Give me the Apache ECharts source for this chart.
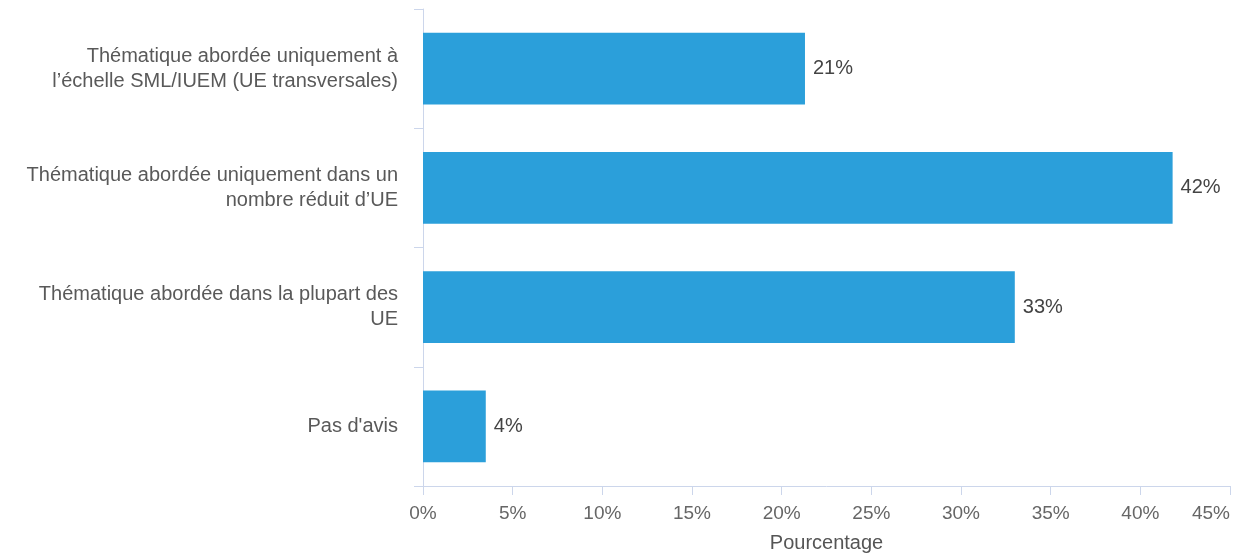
<!DOCTYPE html>
<html>
<head>
<meta charset="utf-8">
<script src="https://cdn.jsdelivr.net/npm/echarts@6/dist/echarts.min.js"></script>
<style>
html,body{margin:0;padding:0;background:#fff;}
#chart{width:1251px;height:558px;}
</style>
</head>
<body>
<div id="chart"></div>
<script>
var categories = [
  "Thématique abordée uniquement à\nl’échelle SML/IUEM (UE transversales)",
  "Thématique abordée uniquement dans un\nnombre réduit d’UE",
  "Thématique abordée dans la plupart des\nUE",
  "Pas d'avis"
];
var values = [21.3, 41.8, 33.0, 3.5];
var axisName = "Pourcentage";
var xMin = 0, xMax = 45, xInterval = 5;

var FONT = "'Liberation Sans', Arial, sans-serif";
var chart = echarts.init(document.getElementById('chart'), null, {renderer: 'canvas'});
chart.setOption({
  animation: false,
  backgroundColor: '#ffffff',
  grid: {left: 423, right: 21, top: 9, bottom: 68, containLabel: false},
  xAxis: {
    type: 'value',
    min: xMin, max: xMax, interval: xInterval,
    name: axisName,
    nameLocation: 'middle',
    nameGap: 47,
    nameTextStyle: {fontFamily: FONT, fontSize: 20, color: '#555555'},
    axisLine: {show: true, lineStyle: {color: '#ccd6eb', width: 1}},
    axisTick: {show: true, length: 9, lineStyle: {color: '#ccd6eb'}},
    axisLabel: {
      formatter: '{value}%', fontFamily: FONT, fontSize: 19, color: '#666666',
      margin: 18, alignMaxLabel: 'right'
    },
    splitLine: {show: false}
  },
  yAxis: {
    type: 'category',
    data: categories,
    inverse: true,
    axisLine: {show: true, lineStyle: {color: '#ccd6eb', width: 1}},
    axisTick: {show: true, length: 9, alignWithLabel: false, lineStyle: {color: '#ccd6eb'}},
    axisLabel: {
      fontFamily: FONT, fontSize: 20, color: '#595959', lineHeight: 25,
      margin: 25, align: 'right'
    },
    splitLine: {show: false}
  },
  series: [{
    type: 'bar',
    data: values,
    barCategoryGap: '40%',
    itemStyle: {color: '#2b9fda'},
    label: {
      show: true, position: 'right', distance: 8,
      fontFamily: FONT, fontSize: 20, color: '#444444',
      formatter: function (p) { return Math.round(p.value) + '%'; }
    }
  }]
});
</script>
</body>
</html>
